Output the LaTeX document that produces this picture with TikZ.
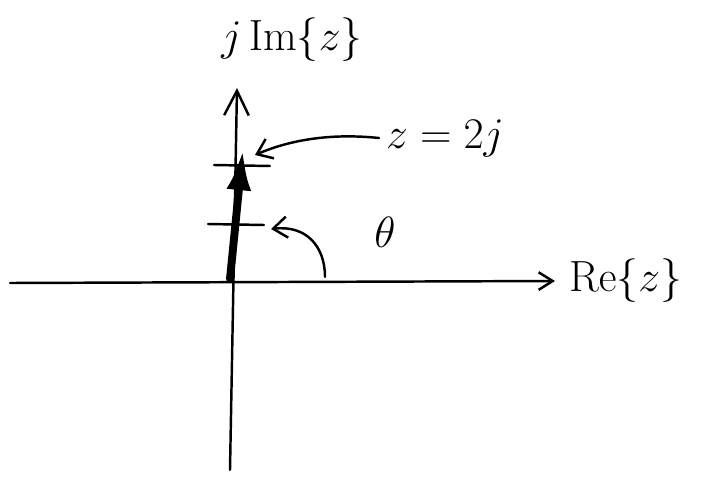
\documentclass[tikz,border=0pt]{standalone}
\usepackage{amsmath}
\usepackage{tikz}
\usetikzlibrary{arrows.meta,positioning,calc}

\begin{document}
\begin{tikzpicture}[x=0.02cm, y=-0.02cm, line cap=round, line width=1.4pt]
\useasboundingbox (0,0) rectangle (725,477);
\coordinate (o) at (230,279);
\coordinate (xl) at (10,283);
\coordinate (xr) at (555,281);
\coordinate (yb) at (230,470);
\coordinate (yt) at (237,88);
\coordinate (z) at (243,148);

\node[font=\Huge] (im) at (292,40) {$j\,\mathrm{Im}\{z\}$};
\node[font=\Huge, anchor=west] (re) at (562,281) {$\mathrm{Re}\{z\}$};
\node[font=\Huge] (zlab) at (445,138) {$z=2j$};
\node[font=\Huge] (th) at (385,232) {$\theta$};

% axes
\draw[-{Straight Barb[length=8pt,width=10pt]}] (xl) -- (xr);
\draw[-{Straight Barb[length=14pt,width=14pt]}] (yb) -- (yt);
% ticks at 1 and 2
\draw (208,224) -- (264,225);
\draw (214,165) -- (270,166);
% the phasor
\draw[-{Latex[length=24pt,width=14pt]}, line width=4.5pt] (o) -- (z);
% pointer to the value
\draw[-{Straight Barb[length=8pt,width=12pt]}] (zlab.west) .. controls (330,133) and (290,140) .. (255,155);
% angle
\draw[-{Straight Barb[length=8pt,width=12pt]}] (325,277) .. controls (325,245) and (305,225) .. (271,229);
\end{tikzpicture}
\end{document}
